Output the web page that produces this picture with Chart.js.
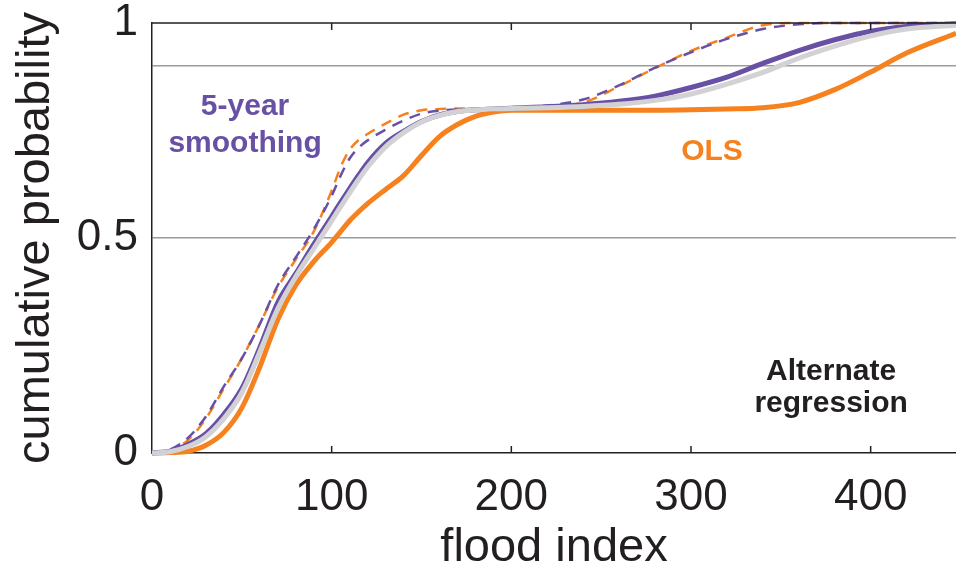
<!DOCTYPE html>
<html>
<head>
<meta charset="utf-8">
<script src="https://cdn.jsdelivr.net/npm/chart.js@4.4.1/dist/chart.umd.min.js"></script>
<style>
  html, body { margin: 0; padding: 0; background: #ffffff; }
  #wrap { width: 956px; height: 566px; position: relative; }
</style>
</head>
<body>
<div id="wrap"><canvas id="c"></canvas></div>
<script>
// ---- data ----
const X_VALUES      = [0, 10, 20, 30, 40, 50, 60, 70, 80, 90, 100, 105, 110, 115, 120, 130, 140, 150, 160, 170, 180, 190, 200, 220, 240, 260, 280, 300, 320, 340, 360, 380, 400, 420, 447.5];
const GRAY_SOLID    = [0, 0.003, 0.015, 0.038, 0.08, 0.14, 0.235, 0.335, 0.41, 0.475, 0.54, 0.573, 0.605, 0.636, 0.665, 0.712, 0.745, 0.77, 0.785, 0.794, 0.798, 0.8, 0.801, 0.803, 0.806, 0.811, 0.82, 0.835, 0.858, 0.885, 0.918, 0.946, 0.97, 0.986, 0.995];
const PURPLE_SOLID  = [0, 0.004, 0.02, 0.045, 0.09, 0.15, 0.245, 0.35, 0.417, 0.485, 0.55, 0.583, 0.615, 0.646, 0.675, 0.72, 0.748, 0.771, 0.786, 0.794, 0.798, 0.8, 0.802, 0.805, 0.81, 0.818, 0.83, 0.85, 0.874, 0.906, 0.936, 0.961, 0.981, 0.992, 0.998];
const ORANGE_SOLID  = [0, 0.001, 0.004, 0.018, 0.048, 0.105, 0.2, 0.31, 0.39, 0.445, 0.49, 0.515, 0.54, 0.561, 0.58, 0.613, 0.645, 0.692, 0.736, 0.764, 0.783, 0.793, 0.797, 0.797, 0.797, 0.797, 0.797, 0.798, 0.8, 0.803, 0.815, 0.845, 0.886, 0.93, 0.976];
const PURPLE_DASHED = [0, 0.008, 0.035, 0.085, 0.155, 0.22, 0.3, 0.39, 0.455, 0.52, 0.598, 0.645, 0.685, 0.71, 0.727, 0.752, 0.773, 0.789, 0.796, 0.799, 0.8, 0.801, 0.803, 0.808, 0.822, 0.855, 0.896, 0.932, 0.963, 0.986, 0.997, 1, 1, 1, 1];
const ORANGE_DASHED = [0, 0.006, 0.03, 0.08, 0.15, 0.22, 0.3, 0.385, 0.45, 0.515, 0.61, 0.665, 0.705, 0.728, 0.742, 0.766, 0.787, 0.797, 0.8, 0.801, 0.801, 0.802, 0.802, 0.806, 0.815, 0.853, 0.895, 0.935, 0.966, 0.995, 1, 1, 1, 1, 1];
const X_TICKS = [0, 100, 200, 300, 400];
const Y_TICKS = [0, 0.5, 0.9, 1];
const Y_TICK_LABELS = ['0', '0.5', '', '1'];
const X_TITLE = 'flood index';
const Y_TITLE = 'cumulative probability';

const PURPLE = '#6850a5';
const ORANGE = '#f5821f';
const GRAY = '#d2d2d4';
const INK = '#231f20';
const GRID = '#9c9c9e';
const FONT = '"Liberation Sans", Arial, Helvetica, sans-serif';

const pts = ys => X_VALUES.map((x, i) => ({ x: x, y: ys[i] }));

const frame = {
  id: 'frame',
  afterDatasetsDraw(chart) {
    const { ctx, chartArea: a, scales: { x } } = chart;
    ctx.save();
    ctx.strokeStyle = INK;
    ctx.lineWidth = 1.5;
    ctx.beginPath();
    ctx.moveTo(a.left, a.top);
    ctx.lineTo(a.right, a.top);
    x.ticks.forEach(t => {
      if (t.value === 0) return;
      const px = x.getPixelForValue(t.value);
      ctx.moveTo(px, a.bottom);
      ctx.lineTo(px, a.bottom - 7);
      ctx.moveTo(px, a.top);
      ctx.lineTo(px, a.top + 7);
    });
    ctx.stroke();
    ctx.restore();
  }
};

const notes = {
  id: 'notes',
  afterDatasetsDraw(chart, args, opts) {
    const { ctx, scales: { x, y } } = chart;
    ctx.save();
    ctx.textAlign = 'center';
    ctx.textBaseline = 'alphabetic';
    ctx.font = 'bold 30px ' + FONT;
    opts.items.forEach(it => {
      ctx.fillStyle = it.color;
      ctx.fillText(it.text, x.getPixelForValue(it.x), y.getPixelForValue(it.y));
    });
    ctx.restore();
  }
};

new Chart(document.getElementById('c'), {
  type: 'line',
  data: {
    datasets: [
      { label: 'gray', data: pts(GRAY_SOLID), borderColor: GRAY, borderWidth: 5 },
      { label: '5-year smoothing', data: pts(PURPLE_SOLID), borderColor: PURPLE, borderWidth: 5 },
      { label: 'OLS', data: pts(ORANGE_SOLID), borderColor: ORANGE, borderWidth: 5 },
      { label: '5-year smoothing (dashed)', data: pts(PURPLE_DASHED), borderColor: PURPLE, borderWidth: 2.5, borderDash: [11, 8] },
      { label: 'OLS (dashed)', data: pts(ORANGE_DASHED), borderColor: ORANGE, borderWidth: 2.5, borderDash: [11, 8], borderDashOffset: 5 }
    ]
  },
  options: {
    responsive: true,
    maintainAspectRatio: false,
    animation: false,
    layout: { padding: { top: 23, right: 0, left: 0, bottom: 0 } },
    elements: {
      point: { radius: 0 },
      line: { cubicInterpolationMode: 'monotone', fill: false, borderCapStyle: 'butt' }
    },
    datasets: { line: { clip: 4 } },
    plugins: {
      legend: { display: false },
      tooltip: { enabled: false },
      notes: {
        items: [
          { text: '5-year', x: 51.8, y: 0.786, color: PURPLE },
          { text: 'smoothing', x: 51.8, y: 0.70, color: PURPLE },
          { text: 'OLS', x: 311.7, y: 0.681, color: ORANGE },
          { text: 'Alternate', x: 378, y: 0.17, color: INK },
          { text: 'regression', x: 378, y: 0.095, color: INK }
        ]
      }
    },
    scales: {
      x: {
        type: 'linear',
        min: 0,
        max: 447.5,
        afterBuildTicks: s => { s.ticks = X_TICKS.map(v => ({ value: v })); },
        afterFit: s => { s.height = 113; s.paddingLeft = 0; s.paddingRight = 0; },
        grid: { drawOnChartArea: false, drawTicks: false },
        border: { display: true, color: INK, width: 1.5 },
        ticks: { color: INK, padding: 18, font: { family: FONT, size: 44 }, maxRotation: 0, callback: v => String(v) },
        title: { display: true, text: X_TITLE, color: INK, font: { family: FONT, size: 47, lineHeight: 1 }, padding: { top: 0, bottom: -6 } }
      },
      y: {
        type: 'linear',
        min: 0,
        max: 1,
        afterBuildTicks: s => { s.ticks = Y_TICKS.map(v => ({ value: v })); },
        afterFit: s => { s.width = 152; s.paddingTop = 0; s.paddingBottom = 0; },
        grid: {
          drawTicks: false,
          color: c => (c.tick && (c.tick.value === 0.5 || c.tick.value === 0.9)) ? GRID : 'rgba(0,0,0,0)',
          lineWidth: 1.5
        },
        border: { display: true, color: INK, width: 1.5 },
        ticks: {
          color: INK, padding: 14, font: { family: FONT, size: 44 },
          callback: (v, i) => Y_TICK_LABELS[i]
        },
        title: { display: true, text: Y_TITLE, color: INK, font: { family: FONT, size: 47, lineHeight: 1 }, padding: { top: 13, bottom: 0 } }
      }
    }
  },
  plugins: [frame, notes]
});
</script>
</body>
</html>
